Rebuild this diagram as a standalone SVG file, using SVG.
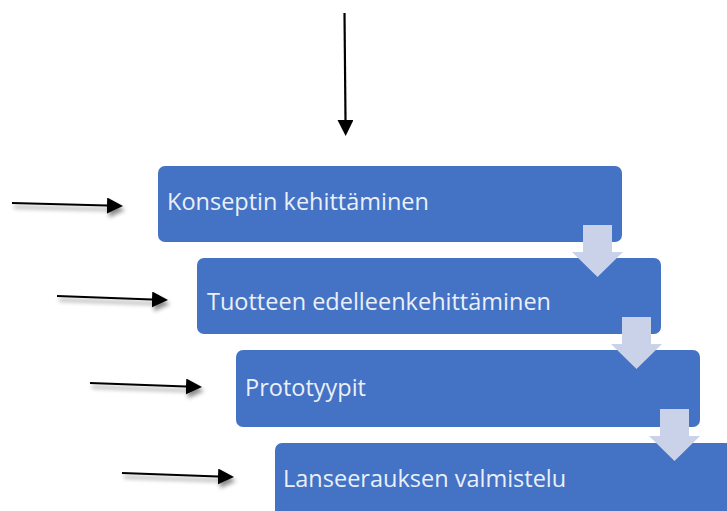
<svg xmlns="http://www.w3.org/2000/svg" width="727" height="511" viewBox="0 0 727 511">
  <style>
    .box { fill: #4472C4; }
    .label { font-family: "Open Sans", "Noto Sans", "DejaVu Sans", sans-serif; font-size: 23.5px; fill: #EAF0F9; }
    .step { fill: #C9D2E8; }
    .ptr { stroke: #000; stroke-width: 2.2; fill: none; }
  </style>
  <defs>
    <marker id="head" markerUnits="userSpaceOnUse" markerWidth="18" markerHeight="18" refX="0" refY="8" orient="auto">
      <path d="M0,0 L16,8 L0,16 Z" fill="#000"/>
    </marker>
    <filter id="shade" x="-10%" y="-60%" width="125%" height="260%">
      <feDropShadow dx="2" dy="4" stdDeviation="2" flood-color="#000" flood-opacity="0.45"/>
    </filter>
  </defs>

  <g id="step-1">
    <rect class="box" x="158" y="166" width="464" height="76" rx="7"/>
    <text class="label" x="167" y="210">Konseptin kehittäminen</text>
  </g>
  <g id="step-2">
    <rect class="box" x="197" y="258" width="464" height="76" rx="7"/>
    <text class="label" x="207" y="310">Tuotteen edelleenkehittäminen</text>
  </g>
  <g id="step-3">
    <rect class="box" x="236" y="350" width="464" height="77" rx="7"/>
    <text class="label" x="245" y="396">Prototyypit</text>
  </g>
  <g id="step-4">
    <rect class="box" x="275" y="443" width="470" height="80" rx="7"/>
    <text class="label" x="283" y="487">Lanseerauksen valmistelu</text>
  </g>

  <g id="connectors">
    <!-- down chevrons between steps -->
    <path class="step" d="M583,225 H612 V252 H623 L597.5,277 L572,252 H583 Z"/>
    <path class="step" d="M622,317 H651 V344 H662 L636.5,369 L611,344 H622 Z"/>
    <path class="step" d="M660,409 H689 V436 H700 L674.5,461 L649,436 H660 Z"/>

    <!-- pointer arrows -->
    <line class="ptr" x1="344.5" y1="13" x2="345.5" y2="120" marker-end="url(#head)"/>
    <g filter="url(#shade)">
      <line class="ptr" x1="12" y1="203" x2="107" y2="205.5" marker-end="url(#head)"/>
      <line class="ptr" x1="57" y1="296" x2="152" y2="299.5" marker-end="url(#head)"/>
      <line class="ptr" x1="90" y1="383" x2="186" y2="386.5" marker-end="url(#head)"/>
      <line class="ptr" x1="122" y1="473" x2="218" y2="476.5" marker-end="url(#head)"/>
    </g>
  </g>
</svg>
